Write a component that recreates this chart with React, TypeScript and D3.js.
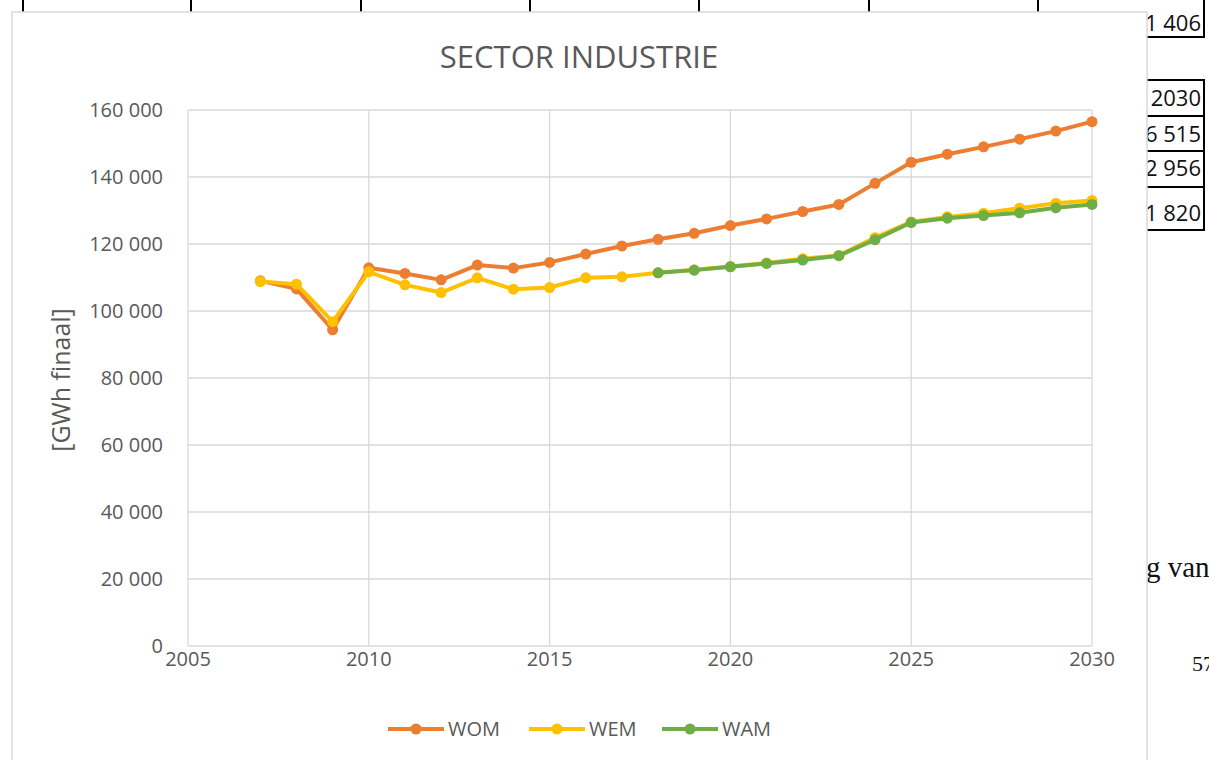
import React from "react";
import * as d3 from "d3";

const title = "SECTOR INDUSTRIE";
const yAxisTitle = "[GWh finaal]";
const seriesNames = ["WOM", "WEM", "WAM"];
const seriesColors = ["#ED7D31", "#FFC000", "#70AD47"];

const years = [2007, 2008, 2009, 2010, 2011, 2012, 2013, 2014, 2015, 2016, 2017, 2018, 2019, 2020, 2021, 2022, 2023, 2024, 2025, 2026, 2027, 2028, 2029, 2030];
const wom = [109000, 106600, 94400, 112900, 111200, 109300, 113700, 112800, 114500, 117000, 119400, 121400, 123200, 125500, 127500, 129700, 131800, 138100, 144400, 146800, 149000, 151300, 153700, 156515];
const wem = [108800, 108000, 96800, 111700, 107800, 105500, 109900, 106500, 107000, 109900, 110200, 111400, 112300, 113300, 114300, 115600, 116600, 121900, 126600, 128100, 129200, 130700, 132200, 132956];
const wamYears = [2018, 2019, 2020, 2021, 2022, 2023, 2024, 2025, 2026, 2027, 2028, 2029, 2030];
const wam = [111400, 112200, 113200, 114200, 115200, 116500, 121300, 126400, 127700, 128500, 129300, 130800, 131820];

const yTicks = [0, 20000, 40000, 60000, 80000, 100000, 120000, 140000, 160000];
const xTicks = [2005, 2010, 2015, 2020, 2025, 2030];

// background document fragments
const topTableCols = [23, 191, 361, 530, 699, 869, 1038, 1204];
const sideTableTexts = ["2030", "6 515", "2 956", "1 820"];

const FONT = "'Open Sans', sans-serif";
const TXT = "#595959";

export default function App() {
  const x = d3.scaleLinear().domain([2005, 2030]).range([188, 1092]);
  const y = d3.scaleLinear().domain([0, 160000]).range([646, 110]);
  const fmt = (v: number) => d3.format(",")(v).replace(/,/g, " ");

  const series = [
    { name: seriesNames[0], color: seriesColors[0], xs: years, vs: wom },
    { name: seriesNames[1], color: seriesColors[1], xs: years, vs: wem },
    { name: seriesNames[2], color: seriesColors[2], xs: wamYears, vs: wam },
  ];
  const line = d3
    .line<[number, number]>()
    .x((d) => x(d[0]))
    .y((d) => y(d[1]));

  const legendX = [388, 529, 662];
  const sideRowLines = [80, 116, 151, 187, 230];
  const sideTextY = [106, 142, 176, 221];

  return (
    <svg
      width={1209}
      height={760}
      style={{ position: "absolute", left: 0, top: 0, background: "#fff" }}
    >
      {/* background document */}
      <g stroke="#000" strokeWidth={2}>
        {topTableCols.map((c) => (
          <line key={c} x1={c} x2={c} y1={0} y2={38} />
        ))}
        <line x1={23} x2={1205} y1={37} y2={37} />
        <line x1={1204} x2={1204} y1={80} y2={230} />
        {sideRowLines.map((r) => (
          <line key={r} x1={1140} x2={1205} y1={r} y2={r} />
        ))}
      </g>
      <text x={1201} y={31} textAnchor="end" fontFamily={FONT} fontSize={22} fill="#111">
        1 406
      </text>
      {sideTableTexts.map((t, i) => (
        <text key={t} x={1201} y={sideTextY[i]} textAnchor="end" fontFamily={FONT} fontSize={22} fill="#111">
          {t}
        </text>
      ))}
      <text x={1146} y={577} fontFamily="'Liberation Serif', serif" fontSize={29} fill="#111">
        g van
      </text>
      <text x={1192} y={671} fontFamily="'Liberation Serif', serif" fontSize={22} fill="#111">
        57
      </text>

      {/* chart panel */}
      <rect x={12} y={12} width={1135} height={760} fill="#fff" stroke="#d9d9d9" strokeWidth={1.5} />

      <text x={579} y={68} textAnchor="middle" fontFamily={FONT} fontSize={31} fill={TXT}>
        {title}
      </text>

      {/* grid */}
      <g stroke="#d9d9d9" strokeWidth={1.3}>
        {yTicks.map((t) => (
          <line key={t} x1={x(2005)} x2={x(2030)} y1={y(t)} y2={y(t)} />
        ))}
        {xTicks.map((t) => (
          <line key={t} x1={x(t)} x2={x(t)} y1={y(0)} y2={y(160000)} />
        ))}
      </g>

      {/* y ticks */}
      {yTicks.map((t) => (
        <text key={t} x={163} y={y(t) + 7} textAnchor="end" fontFamily={FONT} fontSize={20} fill={TXT}>
          {fmt(t)}
        </text>
      ))}
      {/* x ticks */}
      {xTicks.map((t) => (
        <text key={t} x={x(t)} y={666} textAnchor="middle" fontFamily={FONT} fontSize={20} fill={TXT}>
          {t}
        </text>
      ))}

      <text
        transform={`translate(70,380) rotate(-90)`}
        textAnchor="middle"
        fontFamily={FONT}
        fontSize={25}
        fill={TXT}
      >
        {yAxisTitle}
      </text>

      {/* series */}
      {series.map((s) => {
        const pts = s.xs.map((yr, i) => [yr, s.vs[i]] as [number, number]);
        return (
          <g key={s.name}>
            <path d={line(pts) || ""} fill="none" stroke={s.color} strokeWidth={4} strokeLinejoin="round" />
            {pts.map((p, i) => (
              <circle key={i} cx={x(p[0])} cy={y(p[1])} r={5.5} fill={s.color} />
            ))}
          </g>
        );
      })}

      {/* legend */}
      {series.map((s, i) => (
        <g key={s.name}>
          <line x1={legendX[i]} x2={legendX[i] + 56} y1={729} y2={729} stroke={s.color} strokeWidth={4} />
          <circle cx={legendX[i] + 28} cy={729} r={5.5} fill={s.color} />
          <text x={legendX[i] + 60} y={736} fontFamily={FONT} fontSize={20} fill={TXT}>
            {s.name}
          </text>
        </g>
      ))}
    </svg>
  );
}
